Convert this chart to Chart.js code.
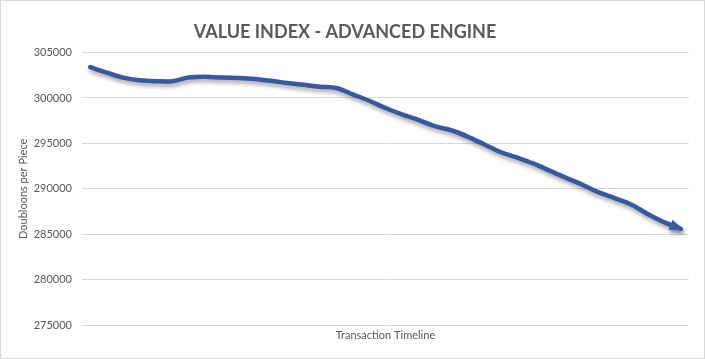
<!DOCTYPE html>
<html>
<head>
<meta charset="utf-8">
<script src="https://cdn.jsdelivr.net/npm/chart.js@4/dist/chart.umd.min.js"></script>
<style>
  html, body { margin: 0; padding: 0; background: #fff; }
  #wrap { position: relative; width: 705px; height: 359px; box-sizing: border-box; border: 1px solid #d9d9d9; }
  canvas { display: block; }
</style>
</head>
<body>
<div id="wrap"><canvas id="c"></canvas></div>
<script>
const chartTitle = "VALUE INDEX - ADVANCED ENGINE";
const xAxisTitle = "Transaction Timeline";
const yAxisTitle = "Doubloons per Piece";
const categories = Array.from({length: 37}, (_, i) => "T" + (i + 1));
const values = [
  303400, 302800, 302250, 301950, 301850, 301850, 302250, 302350, 302250, 302200,
  302100, 301900, 301650, 301450, 301250, 301100, 300400, 299700, 298900, 298200,
  297600, 296900, 296450, 295750, 294900, 294050, 293450, 292800, 292000, 291200,
  290450, 289600, 288950, 288250, 287200, 286300, 285600
];
const yMin = 275000, yMax = 305000, yStep = 5000;

const lineColor = '#3659A3';
const textColor = '#595959';
const FONT = 'Lato, "Open Sans", "Liberation Sans", sans-serif';

const shadowArrowPlugin = {
  id: 'shadowArrow',
  beforeDatasetsDraw(chart) {
    const ctx = chart.ctx;
    ctx.save();
    ctx.shadowColor = 'rgba(0,0,0,0.35)';
    ctx.shadowBlur = 4;
    ctx.shadowOffsetX = 1;
    ctx.shadowOffsetY = 3;
  },
  afterDatasetsDraw(chart) {
    const ctx = chart.ctx;
    const pts = chart.getDatasetMeta(0).data;
    const p1 = pts[pts.length - 2], p2 = pts[pts.length - 1];
    const ang = Math.atan2(p2.y - p1.y, p2.x - p1.x);
    const L = 11, W = 5.5;
    ctx.fillStyle = lineColor;
    ctx.beginPath();
    ctx.moveTo(p2.x + Math.cos(ang) * 3, p2.y + Math.sin(ang) * 3);
    ctx.lineTo(p2.x - Math.cos(ang) * L + Math.sin(ang) * W, p2.y - Math.sin(ang) * L - Math.cos(ang) * W);
    ctx.lineTo(p2.x - Math.cos(ang) * L - Math.sin(ang) * W, p2.y - Math.sin(ang) * L + Math.cos(ang) * W);
    ctx.closePath();
    ctx.fill();
    ctx.restore();
  }
};

new Chart(document.getElementById('c'), {
  type: 'line',
  data: {
    labels: categories,
    datasets: [{
      data: values,
      borderColor: lineColor,
      borderWidth: 4.5,
      pointRadius: 0,
      tension: 0.35,
      fill: false,
      borderCapStyle: 'round',
      borderJoinStyle: 'round'
    }]
  },
  options: {
    responsive: true,
    maintainAspectRatio: false,
    animation: false,
    layout: { padding: { left: 0, right: 15, top: 0, bottom: 0 } },
    plugins: {
      legend: { display: false },
      tooltip: { enabled: false },
      title: {
        display: true,
        text: chartTitle,
        color: textColor,
        font: { family: FONT, size: 18, weight: 'bold' },
        padding: { top: 20, bottom: 10 }
      }
    },
    scales: {
      x: {
        offset: true,
        grid: { display: false },
        border: { display: false },
        ticks: { display: false },
        title: {
          display: true,
          text: xAxisTitle,
          color: textColor,
          font: { family: FONT, size: 11 },
          padding: { top: 0, bottom: 16 }
        },
        afterFit(s) { s.height = 33; }
      },
      y: {
        min: yMin,
        max: yMax,
        grid: { color: '#d9d9d9', lineWidth: 1, drawTicks: false },
        border: { display: false },
        ticks: {
          stepSize: yStep,
          color: textColor,
          font: { family: FONT, size: 11 },
          padding: 10,
          callback: v => String(v)
        },
        title: {
          display: true,
          text: yAxisTitle,
          color: textColor,
          font: { family: FONT, size: 11 },
          padding: { top: 16, bottom: 0 }
        },
        afterFit(s) { s.width = 81; }
      }
    }
  },
  plugins: [shadowArrowPlugin]
});
</script>
</body>
</html>
